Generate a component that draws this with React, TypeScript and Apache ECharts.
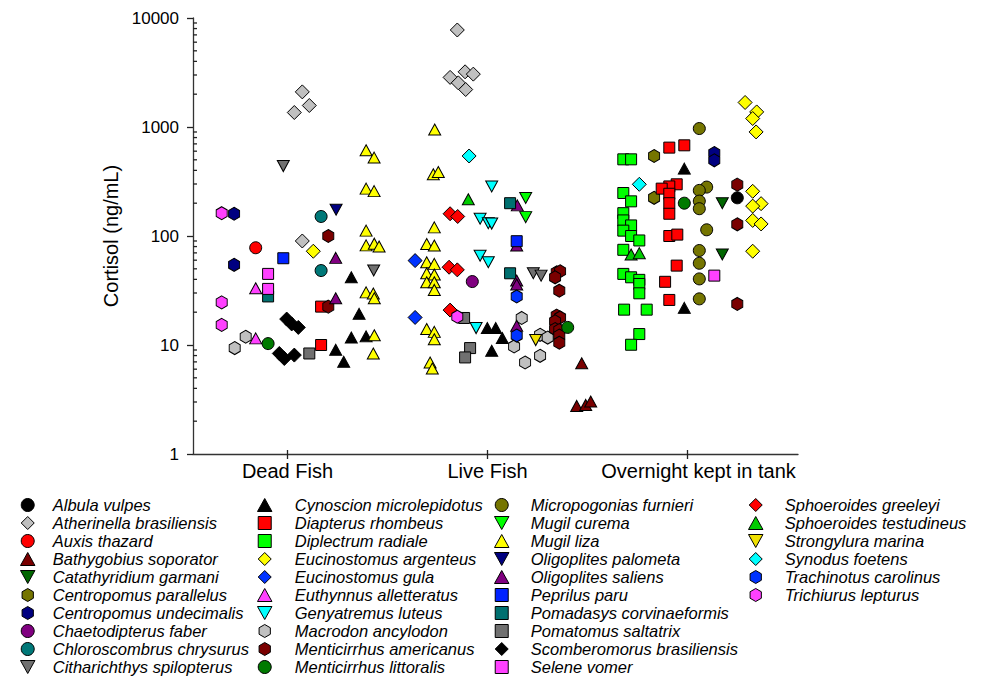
import React, { useEffect, useRef } from 'react';
import * as echarts from 'echarts';

const FONT = '"Liberation Sans", Arial, Helvetica, sans-serif';

// x categories (jittered numeric positions 1,2,3)
const groupNames = ['Dead Fish', 'Live Fish', 'Overnight kept in tank'];
const groupPositions = [1, 2, 3];
const yMajorTicks = [1, 10, 100, 1000, 10000];
const yMinorTicks = [2, 3, 4, 5, 6, 7, 8, 9, 20, 30, 40, 50, 60, 70, 80, 90, 200, 300, 400, 500, 600, 700, 800, 900, 2000, 3000, 4000, 5000, 6000, 7000, 8000, 9000];

// data: [x position, cortisol ng/mL]
const albulaVulpes = [[3.249, 224]];
const atherinellaBrasiliensis = [[1.074, 2100], [1.109, 1575], [1.034, 1358], [1.074, 90], [1.849, 7762], [1.888, 3208], [1.929, 3055], [1.813, 2851], [1.854, 2541], [1.891, 2207]];
const auxisThazard = [[0.841, 78]];
const bathygobiusSoporator = [[2.471, 6.8], [2.446, 2.76], [2.491, 2.82], [2.516, 3.03]];
const catathyridiumGarmani = [[3.174, 200], [3.174, 67.6]];
const centropomusParallelus = [[2.833, 542], [2.833, 224]];
const centropomusUndecimalis = [[0.733, 160], [0.733, 54.4], [3.134, 577], [3.134, 495]];
const chaetodipterusFaber = [[1.924, 38.2]];
const chloroscombrusChrysurus = [[1.168, 151], [1.168, 48.2]];
const citharichthysSpilopterus = [[0.979, 438], [1.431, 48.2], [2.229, 45.5], [2.268, 43.3]];
const cynoscionMicrolepidotus = [[1.319, 41.8], [1.358, 19.3], [1.319, 11.7], [1.393, 12], [1.241, 9.04], [1.281, 7.02], [1.999, 14.3], [2.041, 14.3], [2.074, 11.6], [2.021, 8.85], [2.984, 415], [2.984, 21.9]];
const diapterusRhombeus = [[1.168, 22.5], [1.168, 10], [2.909, 647], [2.984, 679], [2.946, 298], [2.909, 285], [2.871, 272], [2.909, 244], [2.909, 200], [2.909, 160], [2.909, 100], [2.949, 103], [2.946, 53.5], [2.888, 38], [2.909, 25.9]];
const diplectrumRadiale = [[2.679, 505], [2.718, 505], [2.679, 248], [2.718, 208], [2.679, 162], [2.679, 139], [2.718, 125], [2.679, 112], [2.718, 100], [2.759, 91], [2.679, 74.7], [2.679, 44.9], [2.718, 41.8], [2.759, 39.6], [2.759, 36.3], [2.759, 29.8], [2.683, 21.1], [2.796, 21.1], [2.759, 12.6], [2.718, 10.05]];
const eucinostomusArgenteus = [[1.129, 72.5], [3.288, 1679], [3.346, 1375], [3.326, 1196], [3.343, 901], [3.326, 257], [3.368, 198], [3.326, 188], [3.326, 139], [3.368, 129], [3.326, 72.5]];
const eucinostomusGula = [[1.638, 59.5], [1.638, 17.9]];
const euthynnusAlletteratus = [[0.841, 33.1], [0.841, 11.5]];
const genyatremusLuteus = [[2.021, 285], [1.963, 144], [2.004, 131], [2.021, 130], [1.963, 66], [2.004, 57.4], [1.943, 14.3]];
const macrodonAncylodon = [[0.791, 11.9], [0.736, 9.37], [2.171, 17.7], [2.263, 12.4], [2.301, 11.7], [2.133, 9.7], [2.188, 6.91], [2.263, 7.96]];
const menticirrhusAmericanus = [[1.204, 100], [1.204, 22.5], [2.346, 46.5], [2.363, 47.5], [2.338, 41.8], [2.359, 31.5], [2.346, 18.6], [2.363, 17.9], [2.338, 16.5], [2.338, 14], [2.359, 13.7], [2.359, 12.2], [2.359, 10.5], [3.249, 296], [3.249, 128], [3.249, 23.8]];
const menticirrhusLittoralis = [[0.903, 10.3], [2.401, 14.5], [2.984, 200]];
const micropogoniasFurnieri = [[3.059, 968], [3.096, 281], [3.059, 262], [3.059, 209], [3.059, 178], [3.096, 114], [3.059, 73.6], [3.059, 56.2], [3.059, 40.4], [3.059, 26.5]];
const mugilCurema = [[2.191, 223], [2.191, 149]];
const mugilLiza = [[1.393, 611], [1.433, 524], [1.393, 272], [1.433, 258], [1.393, 112], [1.393, 82], [1.434, 85], [1.458, 80], [1.393, 30.4], [1.429, 29.7], [1.434, 26.8], [1.434, 12.3], [1.429, 8.36], [1.736, 948], [1.729, 368], [1.754, 386], [1.734, 120], [1.696, 84.5], [1.734, 81.8], [1.696, 57.4], [1.734, 55.5], [1.696, 45.5], [1.734, 44.3], [1.696, 37.6], [1.734, 37.6], [1.734, 32], [1.696, 14], [1.734, 13.2], [1.734, 11.3], [1.713, 6.91], [1.724, 6.09]];
const oligoplitesPalometa = [[1.243, 174]];
const oligoplitesSaliens = [[1.241, 63], [1.241, 26.8], [2.149, 191], [2.146, 81.8], [2.146, 39], [2.146, 35.9], [2.146, 15]];
const peprilusParu = [[0.979, 62.5], [2.146, 89.6]];
const pomadasysCorvinaeformis = [[0.903, 27.9], [2.113, 200], [2.113, 45.5]];
const pomatomusSaltatrix = [[1.109, 8.36], [1.883, 17.7], [1.913, 9.37], [1.888, 7.69]];
const scomberomorusBrasiliensis = [[0.996, 17.3], [1.021, 15.6], [1.054, 14.5], [0.959, 8.36], [0.984, 7.52], [1.034, 8.08]];
const seleneVomer = [[0.903, 44.9], [0.903, 32.7], [3.134, 43.3]];
const sphoeroidesGreeleyi = [[1.813, 160], [1.851, 151], [1.808, 51.7], [1.849, 48.9], [1.813, 20.9]];
const sphoeroidesTestudineus = [[1.904, 217], [2.718, 67.6], [2.759, 69.6]];
const strongyluraMarina = [[2.241, 11.1]];
const synodusFoetens = [[1.908, 542], [2.759, 298]];
const trachinotusCarolinus = [[2.146, 27.9], [2.146, 12.2]];
const trichiurusLepturus = [[0.671, 162], [0.671, 24.6], [0.671, 15.3], [1.849, 18.2]];

// axis extents
const X_MIN = 0.5275;
const X_MAX = 3.5525;
const Y_MIN = 1;
const Y_MAX = 10000;

// marker shapes
const CIRCLE = 'circle';
const SQUARE = 'path://M0,0L10,0L10,10L0,10Z';
const DIAMOND = 'path://M5,0L10,5L5,10L0,5Z';
const TRI_UP = 'path://M5,0L10,9L0,9Z';
const TRI_DOWN = 'path://M0,0L10,0L5,9Z';
const HEXAGON = 'path://M5,0L9.33,2.5L9.33,7.5L5,10L0.67,7.5L0.67,2.5Z';

const SIZES: Record<string, number[]> = {
  [CIRCLE]: [12, 12],
  [SQUARE]: [11, 11],
  [DIAMOND]: [14, 14],
  [TRI_UP]: [12, 11],
  [TRI_DOWN]: [12, 11],
  [HEXAGON]: [11, 13],
};

const species: { name: string; symbol: string; color: string; data: number[][] }[] = [
  { name: 'Albula vulpes', symbol: CIRCLE, color: '#000000', data: albulaVulpes },
  { name: 'Atherinella brasiliensis', symbol: DIAMOND, color: '#c0c0c0', data: atherinellaBrasiliensis },
  { name: 'Auxis thazard', symbol: CIRCLE, color: '#ff0000', data: auxisThazard },
  { name: 'Bathygobius soporator', symbol: TRI_UP, color: '#7a0000', data: bathygobiusSoporator },
  { name: 'Catathyridium garmani', symbol: TRI_DOWN, color: '#006600', data: catathyridiumGarmani },
  { name: 'Centropomus parallelus', symbol: HEXAGON, color: '#757500', data: centropomusParallelus },
  { name: 'Centropomus undecimalis', symbol: HEXAGON, color: '#000080', data: centropomusUndecimalis },
  { name: 'Chaetodipterus faber', symbol: CIRCLE, color: '#800080', data: chaetodipterusFaber },
  { name: 'Chloroscombrus chrysurus', symbol: CIRCLE, color: '#007878', data: chloroscombrusChrysurus },
  { name: 'Citharichthys spilopterus', symbol: TRI_DOWN, color: '#707070', data: citharichthysSpilopterus },
  { name: 'Cynoscion microlepidotus', symbol: TRI_UP, color: '#000000', data: cynoscionMicrolepidotus },
  { name: 'Diapterus rhombeus', symbol: SQUARE, color: '#ff0000', data: diapterusRhombeus },
  { name: 'Diplectrum radiale', symbol: SQUARE, color: '#00ff00', data: diplectrumRadiale },
  { name: 'Eucinostomus argenteus', symbol: DIAMOND, color: '#ffff00', data: eucinostomusArgenteus },
  { name: 'Eucinostomus gula', symbol: DIAMOND, color: '#0033ff', data: eucinostomusGula },
  { name: 'Euthynnus alletteratus', symbol: TRI_UP, color: '#ff40ff', data: euthynnusAlletteratus },
  { name: 'Genyatremus luteus', symbol: TRI_DOWN, color: '#00ffff', data: genyatremusLuteus },
  { name: 'Macrodon ancylodon', symbol: HEXAGON, color: '#c0c0c0', data: macrodonAncylodon },
  { name: 'Menticirrhus americanus', symbol: HEXAGON, color: '#7a0000', data: menticirrhusAmericanus },
  { name: 'Menticirrhus littoralis', symbol: CIRCLE, color: '#007a00', data: menticirrhusLittoralis },
  { name: 'Micropogonias furnieri', symbol: CIRCLE, color: '#757500', data: micropogoniasFurnieri },
  { name: 'Mugil curema', symbol: TRI_DOWN, color: '#00ff00', data: mugilCurema },
  { name: 'Mugil liza', symbol: TRI_UP, color: '#ffff00', data: mugilLiza },
  { name: 'Oligoplites palometa', symbol: TRI_DOWN, color: '#000080', data: oligoplitesPalometa },
  { name: 'Oligoplites saliens', symbol: TRI_UP, color: '#800080', data: oligoplitesSaliens },
  { name: 'Peprilus paru', symbol: SQUARE, color: '#0022ff', data: peprilusParu },
  { name: 'Pomadasys corvinaeformis', symbol: SQUARE, color: '#007070', data: pomadasysCorvinaeformis },
  { name: 'Pomatomus saltatrix', symbol: SQUARE, color: '#707070', data: pomatomusSaltatrix },
  { name: 'Scomberomorus brasiliensis', symbol: DIAMOND, color: '#000000', data: scomberomorusBrasiliensis },
  { name: 'Selene vomer', symbol: SQUARE, color: '#ff40ff', data: seleneVomer },
  { name: 'Sphoeroides greeleyi', symbol: DIAMOND, color: '#ff0000', data: sphoeroidesGreeleyi },
  { name: 'Sphoeroides testudineus', symbol: TRI_UP, color: '#00cc00', data: sphoeroidesTestudineus },
  { name: 'Strongylura marina', symbol: TRI_DOWN, color: '#f0e000', data: strongyluraMarina },
  { name: 'Synodus foetens', symbol: DIAMOND, color: '#00ffff', data: synodusFoetens },
  { name: 'Trachinotus carolinus', symbol: HEXAGON, color: '#0033ff', data: trachinotusCarolinus },
  { name: 'Trichiurus lepturus', symbol: HEXAGON, color: '#ff40ff', data: trichiurusLepturus },
];

const legendColumns = [
  { left: 20, itemWidth: 40, from: 0, to: 10 },
  { left: 257, itemWidth: 50, from: 10, to: 20 },
  { left: 494, itemWidth: 48, from: 20, to: 30 },
  { left: 748, itemWidth: 48, from: 30, to: 37 },
];

const TICK_COLOR = '#222';

export default function App() {
  const ref = useRef<HTMLDivElement>(null);

  useEffect(() => {
    if (!ref.current) return;
    const chart = echarts.init(ref.current, undefined, { renderer: 'svg' });

    const series: any[] = species.map((s) => ({
      name: s.name,
      type: 'scatter',
      xAxisIndex: 0,
      yAxisIndex: 0,
      symbol: s.symbol,
      symbolSize: SIZES[s.symbol],
      itemStyle: { color: s.color, borderColor: '#000', borderWidth: 1, opacity: 1 },
      emphasis: { disabled: true },
      data: s.data,
    }));

    const legends = legendColumns.map((c) => ({
      orient: 'vertical',
      left: c.left,
      top: 496,
      padding: 0,
      itemGap: 0,
      itemWidth: c.itemWidth,
      itemHeight: 13,
      align: 'left',
      selectedMode: false,
      symbolKeepAspect: true,
      itemStyle: { borderWidth: 1, borderColor: '#000' },
      textStyle: { fontSize: 16.5, fontStyle: 'italic', fontFamily: FONT, color: '#000', lineHeight: 18 },
      data: species.slice(c.from, c.to).map((s) => s.name),
    }));

    const axisLine = { show: true, lineStyle: { color: '#333', width: 1.3 } };

    chart.setOption({
      animation: false,
      backgroundColor: '#fff',
      textStyle: { fontFamily: FONT },
      grid: { left: 193, right: 186, top: 18, bottom: 222, containLabel: false },
      legend: legends,
      xAxis: {
        type: 'value',
        position: 'bottom',
        min: X_MIN,
        max: X_MAX,
        axisLine,
        splitLine: { show: false },
        axisTick: { show: false },
        axisLabel: {
          show: true,
          customValues: groupPositions,
          margin: 7,
          fontSize: 20,
          color: '#000',
          fontFamily: FONT,
          formatter: (v: number) => {
            const i = Math.round(v) - 1;
            return i === 2 ? '{o|' + groupNames[i] + '}' : groupNames[i];
          },
          rich: { o: { fontSize: 20, color: '#000', fontFamily: FONT, padding: [0, 0, 0, 22] } },
        },
      },
      yAxis: {
        type: 'log',
        logBase: 10,
        position: 'left',
        min: Y_MIN,
        max: Y_MAX,
        axisLine,
        splitLine: { show: false },
        minorTick: { show: false },
        axisTick: { show: true, length: 6, lineStyle: { color: TICK_COLOR, width: 1.3 } },
        axisLabel: {
          customValues: yMajorTicks,
          margin: 14,
          fontSize: 17,
          color: '#000',
          fontFamily: FONT,
          formatter: (v: number) => String(Math.round(v)),
        },
        name: 'Cortisol (ng/mL)',
        nameLocation: 'middle',
        nameGap: 53,
        nameTextStyle: { fontSize: 20, color: '#000', fontFamily: FONT },
      },
      series,
    });

    // minor ticks and category ticks, positioned through the chart's own scales
    const finder = { xAxisIndex: 0, yAxisIndex: 0 };
    const toPx = (x: number, y: number) => chart.convertToPixel(finder as any, [x, y]) as unknown as number[];
    const line = (x1: number, y1: number, x2: number, y2: number) => ({
      type: 'line',
      silent: true,
      z: 100,
      shape: { x1, y1, x2, y2 },
      style: { stroke: TICK_COLOR, lineWidth: 1.3 },
    });
    const ticks: any[] = [];
    yMinorTicks.forEach((v) => {
      const p = toPx(X_MIN, v);
      if (!p) return;
      ticks.push(line(p[0], p[1], p[0] + 4, p[1]));
    });
    groupPositions.forEach((v) => {
      const p = toPx(v, Y_MIN);
      if (!p) return;
      ticks.push(line(p[0], p[1] - 4, p[0], p[1] + 5));
    });
    if (ticks.length) {
      chart.setOption({ graphic: ticks });
    }

    return () => chart.dispose();
  }, []);

  return (
    <div
      ref={ref}
      style={{ position: 'fixed', left: 0, top: 0, width: 984, height: 676, background: '#fff' }}
    />
  );
}
